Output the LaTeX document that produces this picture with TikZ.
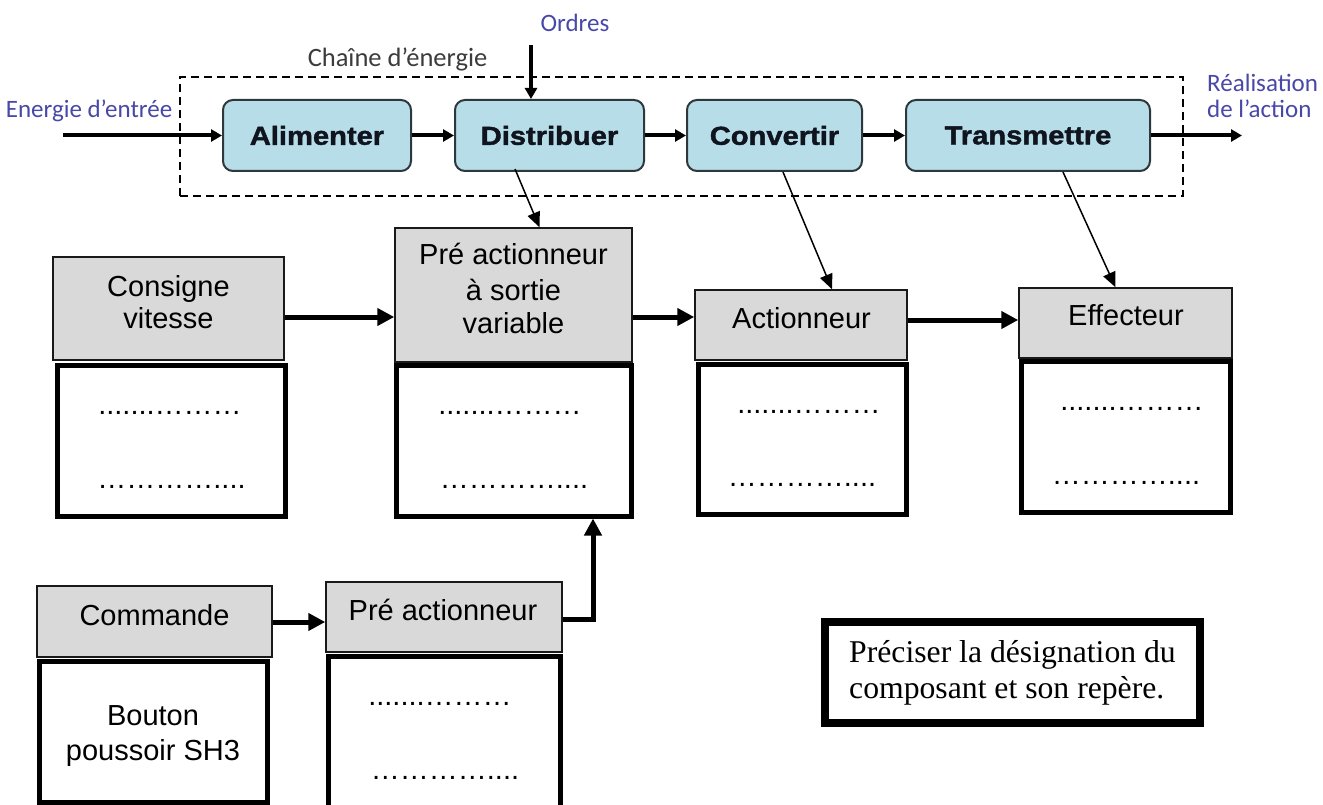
\documentclass[tikz,border=0pt]{standalone}
\usepackage{fontspec}
\setmainfont{Liberation Sans}
\newfontfamily\arialf{Liberation Sans}
\newfontfamily\widebold[FakeStretch=1.12,FakeBold=1.6]{Liberation Sans Bold}
\newfontfamily\calibf{Carlito}
\newfontfamily\tnrf{Liberation Serif}
\usetikzlibrary{arrows.meta,calc}
\definecolor{chainblue}{RGB}{183,221,232}
\definecolor{chainedge}{RGB}{45,55,60}
\definecolor{labelblue}{RGB}{72,72,168}
\definecolor{boxgray}{RGB}{217,217,217}
\definecolor{darktext}{RGB}{60,60,60}
\definecolor{fntext}{RGB}{15,20,30}
\newcommand{\dotsA}{.......………}
\newcommand{\dotsB}{…………....}
\begin{document}
\begin{tikzpicture}[x=1pt,y=-1pt,
  fn/.style={draw=chainedge, fill=chainblue, line width=2pt, rounded corners=10pt,
    minimum height=71pt, inner sep=0pt, text=fntext, font=\widebold\fontsize{26}{28}\selectfont},
  dashbox/.style={draw=black, line width=1.6pt, dash pattern=on 8pt off 5pt, inner sep=0pt},
  bluelbl/.style={text=labelblue, font=\calibf\fontsize{25}{28}\selectfont, anchor=base, inner sep=0pt},
  chainlbl/.style={text=darktext, font=\calibf\fontsize{26.5}{28}\selectfont, anchor=base, inner sep=0pt},
  gbox/.style={draw=black!90, fill=boxgray, line width=1.5pt, inner sep=0pt},
  wbox/.style={draw=black, fill=white, line width=5pt, inner sep=0pt},
  lbl/.style={font=\arialf\fontsize{29}{33}\selectfont, anchor=base, inner sep=0pt},
  precbox/.style={draw=black, fill=white, line width=8pt, inner sep=0pt, align=left,
    font=\tnrf\fontsize{31.7}{36}\selectfont},
  fat/.style={line width=5pt, -{Triangle[length=17pt,width=17pt]}},
  med/.style={line width=4pt, -{Triangle[length=11pt,width=12pt]}},
  thinarr/.style={line width=1.5pt, -{Triangle[length=15pt,width=13pt]}}
]
\useasboundingbox (0,0) rectangle (1323,805);
\clip (0,0) rectangle (1323,805);
\fill[white] (0,0) rectangle (1323,805);

% ---------- energy chain ----------
\node[dashbox, minimum width=1003pt, minimum height=119pt] (chain) at (681.5,136.5) {};
\node[fn, minimum width=188pt] (ali) at (317,135.5) {Alimenter};
\node[fn, minimum width=189pt] (dis) at (549.5,135.5) {Distribuer};
\node[fn, minimum width=175pt] (conv) at (774.5,135.5) {Convertir};
\node[fn, minimum width=244pt] (trans) at (1028,135.5) {Transmettre};

\node[bluelbl] (einlbl) at (89,118) {Energie d’entrée};
\node[bluelbl] (ordlbl) at (575,32) {Ordres};
\node[chainlbl] (chainlbl) at (397.5,67) {Chaîne d’énergie};
\node[bluelbl, anchor=base west] (real1) at (1207,92) {Réalisation};
\node[bluelbl, anchor=base west] (real2) at (1207,118) {de l’action};

\coordinate (ein) at (63,135.5);
\coordinate (eout) at (1242,135.5);
\coordinate (ord0) at (531,45);
\draw[med] (ein) -- (ali.west);
\draw[med] (ali.east) -- (dis.west);
\draw[med] (dis.east) -- (conv.west);
\draw[med] (conv.east) -- (trans.west);
\draw[med] (trans.east) -- (eout);
\draw[med] (ord0) -- (ord0 |- dis.north);

% ---------- components ----------
\node[wbox, minimum width=228pt, minimum height=151pt] (consW) at (171,440.5) {};
\node[gbox, minimum width=231pt, minimum height=103pt] (cons) at (168.5,308.5) {};
\node[wbox, minimum width=235pt, minimum height=151pt] (pvarW) at (513.5,440.5) {};
\node[gbox, minimum width=237pt, minimum height=134pt] (pvar) at (513.5,295) {};
\node[wbox, minimum width=208pt, minimum height=150pt] (actW) at (802,439) {};
\node[gbox, minimum width=212pt, minimum height=70pt] (act) at (801,325) {};
\node[wbox, minimum width=209pt, minimum height=151pt] (effW) at (1125.5,436.5) {};
\node[gbox, minimum width=213pt, minimum height=70pt] (eff) at (1125.5,323) {};
\node[wbox, minimum width=228pt, minimum height=141pt] (comW) at (153,731.5) {};
\node[gbox, minimum width=235pt, minimum height=71pt] (com) at (154.5,621.5) {};
\node[wbox, minimum width=232pt, minimum height=174pt] (preW) at (444,743) {};
\node[gbox, minimum width=236pt, minimum height=70pt] (pre) at (444,617) {};

\node[lbl] (consT1) at (168.5,296) {Consigne};
\node[lbl] (consT2) at (168.5,328) {vitesse};
\node[lbl] (pvarT1) at (513.5,265) {Pré actionneur};
\node[lbl] (pvarT2) at (513.5,300) {à sortie};
\node[lbl] (pvarT3) at (513.5,333) {variable};
\node[lbl] (actT) at (801.5,328) {Actionneur};
\node[lbl] (effT) at (1126,325) {Effecteur};
\node[lbl] (comT) at (154.5,625) {Commande};
\node[lbl] (preT) at (443,620) {Pré actionneur};
\node[lbl] (btn1) at (153,725) {Bouton};
\node[lbl] (btn2) at (153,760) {poussoir SH3};

\node[lbl] (d1) at (170,414.5) {\dotsA};
\node[lbl] (d2) at (171.5,488.5) {\dotsB};
\node[lbl] (d3) at (510,414.5) {\dotsA};
\node[lbl] (d4) at (514,488.5) {\dotsB};
\node[lbl] (d5) at (809,413.5) {\dotsA};
\node[lbl] (d6) at (802,486.5) {\dotsB};
\node[lbl] (d7) at (1132,410.5) {\dotsA};
\node[lbl] (d8) at (1126,484.5) {\dotsB};
\node[lbl] (d9) at (440,705.5) {\dotsA};
\node[lbl] (d10) at (445,779.5) {\dotsB};

% ---------- connectors ----------
\draw[thinarr] ($(dis.south)+(-34.5,-3)$) -- ($(pvar.north)+(26,0)$);
\draw[thinarr] ($(conv.south)+(8.5,0)$) -- ($(act.north)+(31,0)$);
\draw[thinarr] ($(trans.south)+(35,0)$) -- ($(eff.north)+(-10,0)$);

\draw[fat] ($(cons.east)+(0,8.5)$) -- ($(pvar.west)+(0,22)$);
\draw[fat] ($(pvar.east)+(0,22)$) -- ($(act.west)+(0,-8)$);
\draw[fat] ($(act.east)+(0,-5)$) -- ($(eff.west)+(0,-3)$);
\draw[fat] ($(com.east)+(0,0.5)$) -- ($(pre.west)+(0,5)$);
\draw[fat] ($(pre.east)+(0,2)$) -| ($(pvarW.south)+(79.5,0)$);

% ---------- note ----------
\node[precbox, minimum width=375pt, minimum height=101pt] (prec) at (1012.5,672.5)
  {Préciser la désignation du\\composant et son repère.};
\end{tikzpicture}
\end{document}
